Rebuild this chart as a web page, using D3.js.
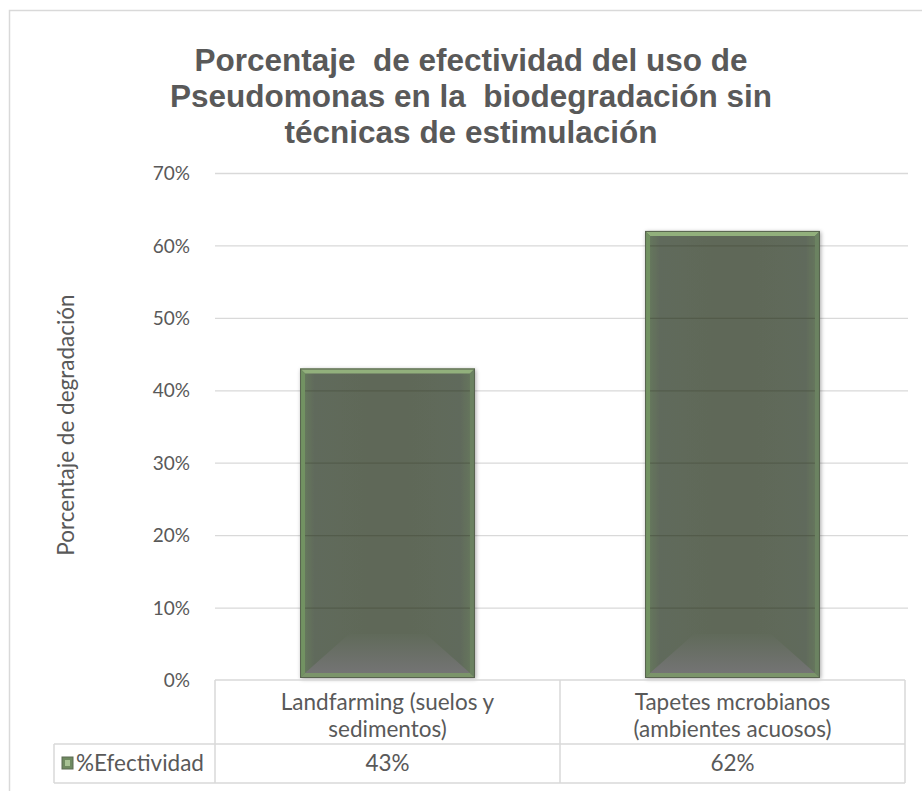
<!DOCTYPE html>
<html>
<head>
<meta charset="utf-8">
<script src="https://cdn.jsdelivr.net/npm/d3@7"></script>
<style>
  html, body { margin: 0; padding: 0; background: #fff; }
  svg { display: block; }
  .keep-space { white-space: pre; }
</style>
</head>
<body>
<svg id="chart" width="922" height="791"></svg>
<script>
// Chart data
const categories = [
  ["Landfarming (suelos y", "sedimentos)"],
  ["Tapetes mcrobianos", "(ambientes acuosos)"]
];
const seriesName = "%Efectividad";
const values = [43, 62];
const yTicks = [0, 10, 20, 30, 40, 50, 60, 70];
const titleLines = [
  "Porcentaje  de efectividad del uso de",
  "Pseudomonas en la  biodegradación sin",
  "técnicas de estimulación"
];
const yAxisTitle = "Porcentaje de degradación";

const svg = d3.select("#chart");
const textColor = "#595959";
const gridColor = "#d9d9d9";
const bodyFont = "Lato, 'Open Sans', sans-serif";
const tableFontSize = 22.5;

// Plot frame
const plot = { left: 215, right: 905, top: 173, bottom: 680 };
const table = { legendLeft: 54, headBottom: 744, bottom: 783 };

const x = d3.scaleBand()
  .domain(d3.range(categories.length))
  .range([plot.left, plot.right])
  .paddingInner(0.493)
  .paddingOuter(0.2465);

const y = d3.scaleLinear().domain([0, 70]).range([plot.bottom, plot.top]);

// Chart area border
svg.append("rect")
  .attr("x", 9.5).attr("y", 10.5)
  .attr("width", 940).attr("height", 820)
  .attr("fill", "none").attr("stroke", gridColor).attr("stroke-width", 1.5);

// Title
svg.append("text")
  .attr("class", "keep-space")
  .attr("text-anchor", "middle")
  .attr("font-family", "'Liberation Sans', Arial, sans-serif")
  .attr("font-weight", "bold")
  .attr("font-size", 31.5)
  .attr("fill", textColor)
  .selectAll("tspan")
  .data(titleLines)
  .join("tspan")
  .attr("x", 471)
  .attr("y", (d, i) => 71 + i * 36)
  .text(d => d);

// Gridlines
svg.append("g")
  .selectAll("line")
  .data(yTicks.filter(t => t > 0))
  .join("line")
  .attr("x1", plot.left).attr("x2", plot.right + 3)
  .attr("y1", d => y(d) + 0.5).attr("y2", d => y(d) + 0.5)
  .attr("stroke", gridColor).attr("stroke-width", 1.3);

// Y axis tick labels
const yAxis = d3.axisLeft(y).tickValues(yTicks).tickFormat(d => d + "%").tickSize(0).tickPadding(0);
const yAxisG = svg.append("g")
  .attr("transform", `translate(${plot.left - 25},0)`)
  .call(yAxis);
yAxisG.select(".domain").remove();
yAxisG.selectAll("text")
  .attr("font-family", bodyFont)
  .attr("font-size", 19)
  .attr("fill", textColor)
  .attr("dy", "0.35em");

// Y axis title
svg.append("text")
  .attr("transform", `translate(74,425) rotate(-90)`)
  .attr("text-anchor", "middle")
  .attr("font-family", bodyFont)
  .attr("font-size", 22.5)
  .attr("fill", textColor)
  .text(yAxisTitle);

// Bars with bevelled edges
const defs = svg.append("defs");
const shadow = defs.append("filter").attr("id", "barShadow")
  .attr("x", "-10%").attr("y", "-10%").attr("width", "130%").attr("height", "130%");
shadow.append("feGaussianBlur").attr("in", "SourceAlpha").attr("stdDeviation", 2);
shadow.append("feOffset").attr("dx", 1).attr("dy", 1).attr("result", "b");
shadow.append("feComponentTransfer").append("feFuncA").attr("type", "linear").attr("slope", 0.35);
const fm = shadow.append("feMerge");
fm.append("feMergeNode");
fm.append("feMergeNode").attr("in", "SourceGraphic");

const bottomGrad = defs.append("linearGradient").attr("id", "bottomBevel")
  .attr("x1", 0).attr("y1", 0).attr("x2", 0).attr("y2", 1);
bottomGrad.append("stop").attr("offset", "0%").attr("stop-color", "#606a5a");
bottomGrad.append("stop").attr("offset", "100%").attr("stop-color", "#747474");

const faceGrad = defs.append("linearGradient").attr("id", "faceGrad")
  .attr("x1", 0).attr("y1", 0).attr("x2", 1).attr("y2", 0);
faceGrad.append("stop").attr("offset", "0%").attr("stop-color", "#687c5e");
faceGrad.append("stop").attr("offset", "8%").attr("stop-color", "#616b5b");
faceGrad.append("stop").attr("offset", "50%").attr("stop-color", "#5e6758");
faceGrad.append("stop").attr("offset", "92%").attr("stop-color", "#616b5b");
faceGrad.append("stop").attr("offset", "100%").attr("stop-color", "#687a5e");

const bars = svg.append("g").selectAll("g.bar")
  .data(values)
  .join("g")
  .attr("class", "bar");

bars.each(function (v, i) {
  const g = d3.select(this);
  const x0 = x(i), x1 = x(i) + x.bandwidth();
  const y0 = y(v), y1 = y(0) - 2;
  const e = 5;        // edge bevel width
  const b = 44;       // bottom bevel depth

  g.append("rect")
    .attr("x", x0).attr("y", y0)
    .attr("width", x1 - x0).attr("height", y1 - y0)
    .attr("fill", "url(#faceGrad)")
    .attr("filter", "url(#barShadow)");

  // gridlines showing through the bar
  g.selectAll("line.through")
    .data(yTicks.filter(t => t > 0 && t < v))
    .join("line")
    .attr("class", "through")
    .attr("x1", x0).attr("x2", x1)
    .attr("y1", d => y(d) + 0.5).attr("y2", d => y(d) + 0.5)
    .attr("stroke", "#49503f").attr("stroke-opacity", 0.55).attr("stroke-width", 1.3);

  // bottom bevel
  g.append("polygon")
    .attr("points", [[x0 + e, y1 - e], [x0 + e + b, y1 - b], [x1 - e - b, y1 - b], [x1 - e, y1 - e]].join(" "))
    .attr("fill", "url(#bottomBevel)");

  // top edge
  g.append("polygon")
    .attr("points", [[x0, y0], [x1, y0], [x1 - e, y0 + e], [x0 + e, y0 + e]].join(" "))
    .attr("fill", "#92b07c");
  // left edge
  g.append("polygon")
    .attr("points", [[x0, y0], [x0 + e, y0 + e], [x0 + e, y1 - e], [x0, y1]].join(" "))
    .attr("fill", "#729262");
  // right edge
  g.append("polygon")
    .attr("points", [[x1, y0], [x1 - e, y0 + e], [x1 - e, y1 - e], [x1, y1]].join(" "))
    .attr("fill", "#6b8261");
  // bottom edge
  g.append("polygon")
    .attr("points", [[x0, y1], [x0 + e, y1 - e], [x1 - e, y1 - e], [x1, y1]].join(" "))
    .attr("fill", "#7b946a");

  g.append("rect")
    .attr("x", x0 + 0.5).attr("y", y0 + 0.5)
    .attr("width", x1 - x0 - 1).attr("height", y1 - y0 - 1)
    .attr("fill", "none").attr("stroke", "#58634f").attr("stroke-width", 1);
});

// Data table
const tbl = svg.append("g")
  .attr("stroke", gridColor).attr("stroke-width", 1.5).attr("fill", "none");
const step = x.step();
const colEdges = d3.range(categories.length + 1).map(k => plot.left + k * step);
// horizontal rules
tbl.append("line").attr("x1", plot.left).attr("x2", plot.right).attr("y1", plot.bottom).attr("y2", plot.bottom);
tbl.append("line").attr("x1", table.legendLeft).attr("x2", plot.right).attr("y1", table.headBottom).attr("y2", table.headBottom);
tbl.append("line").attr("x1", table.legendLeft).attr("x2", plot.right).attr("y1", table.bottom).attr("y2", table.bottom);
// vertical rules
tbl.selectAll("line.col")
  .data(colEdges)
  .join("line")
  .attr("class", "col")
  .attr("x1", d => d).attr("x2", d => d)
  .attr("y1", plot.bottom).attr("y2", table.bottom);
tbl.append("line").attr("x1", table.legendLeft).attr("x2", table.legendLeft)
  .attr("y1", table.headBottom).attr("y2", table.bottom);

// Category labels
svg.append("g").selectAll("text")
  .data(categories)
  .join("text")
  .attr("text-anchor", "middle")
  .attr("font-family", bodyFont)
  .attr("font-size", tableFontSize)
  .attr("fill", textColor)
  .each(function (lines, i) {
    d3.select(this).selectAll("tspan")
      .data(lines)
      .join("tspan")
      .attr("x", x(i) + x.bandwidth() / 2)
      .attr("y", (d, k) => 710 + k * 27)
      .text(d => d);
  });

// Value row
svg.append("g").selectAll("text")
  .data(values)
  .join("text")
  .attr("x", (d, i) => x(i) + x.bandwidth() / 2)
  .attr("y", 771)
  .attr("text-anchor", "middle")
  .attr("font-family", bodyFont)
  .attr("font-size", tableFontSize)
  .attr("fill", textColor)
  .text(d => d + "%");

// Legend key in the table
svg.append("rect")
  .attr("x", 62).attr("y", 757).attr("width", 11).attr("height", 12)
  .attr("fill", "#6f8a60").attr("stroke", "#5c6a52").attr("stroke-width", 1);
svg.append("rect")
  .attr("x", 65).attr("y", 760).attr("width", 5).attr("height", 6)
  .attr("fill", "#a8c294");
svg.append("text")
  .attr("x", 76).attr("y", 771)
  .attr("font-family", bodyFont)
  .attr("font-size", tableFontSize)
  .attr("fill", textColor)
  .text(seriesName);
</script>
</body>
</html>
